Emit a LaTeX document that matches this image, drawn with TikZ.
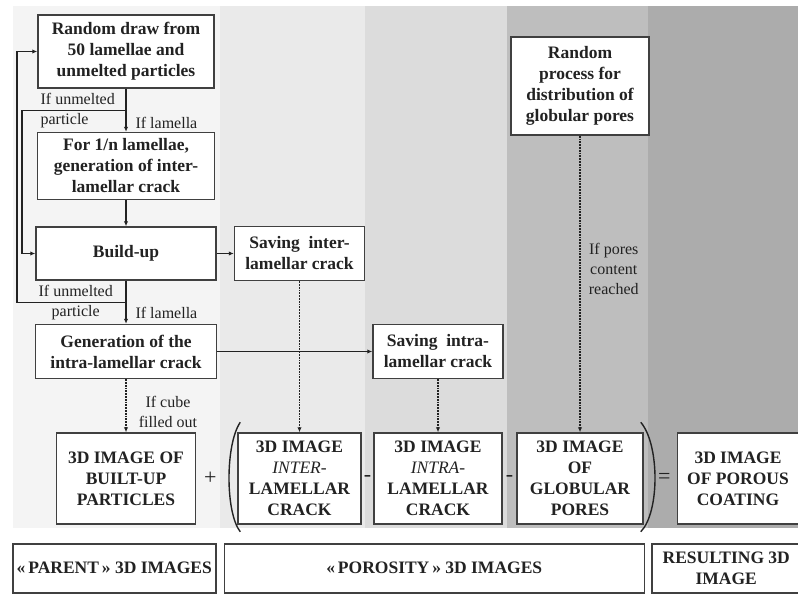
\documentclass[tikz,border=0pt]{standalone}
\usepackage{fontspec}
\setmainfont{Liberation Serif}
\usetikzlibrary{positioning,arrows.meta,calc}
\definecolor{ink}{HTML}{222222}
\definecolor{frame}{HTML}{404040}
\definecolor{bandA}{HTML}{F4F4F4}
\definecolor{bandB}{HTML}{EAEAEA}
\definecolor{bandC}{HTML}{DCDCDC}
\definecolor{bandD}{HTML}{BEBEBE}
\definecolor{bandE}{HTML}{ACACAC}
\tikzset{
  >={Latex[length=5pt,width=4.5pt]},
  %% nodes
  stepbox/.style = {draw=frame, line width=1.5pt, fill=white, align=center,
                    inner sep=0pt, text=ink,
                    font=\fontsize{17.5}{21}\selectfont\bfseries},
  imgbox/.style  = {stepbox, minimum height=91pt},
  tagbox/.style  = {stepbox, minimum height=49pt},
  %% arrows
  flow/.style    = {->, draw=ink, line width=1.1pt},
  link/.style    = {-, draw=ink, line width=1.1pt},
  dots/.style    = {->, draw=ink, line width=1.8pt, densely dotted},
  brace/.style   = {-, draw=ink, line width=1.4pt},
  %% annotations
  lbl/.style     = {font=\fontsize{16}{20}\selectfont, text=ink, inner sep=0pt},
  op/.style      = {font=\fontsize{22}{22}\selectfont, text=ink, inner sep=0pt},
}

\begin{document}
\begin{tikzpicture}[x=1pt, y=-1pt]
\useasboundingbox (0,0) rectangle (798,594);

%% background bands
\foreach \xa/\xb/\col in {13/220/bandA, 220/365/bandB, 365/507/bandC, 507/648/bandD, 648/798/bandE}
  \fill[\col] (\xa,6) rectangle (\xb,528);

%% build-up loop (left column)
\node[stepbox, minimum width=176pt, minimum height=73pt] (draw) at (126,51.5)
  {Random draw from\\ 50 lamellae and\\ unmelted particles};
\node[stepbox, minimum width=177pt, minimum height=67pt, below=43pt of draw] (lam)
  {For 1/n lamellae,\\ generation of inter-\\ lamellar crack};
\node[stepbox, minimum width=180pt, minimum height=53pt, below=26pt of lam] (build) {Build-up};
\node[stepbox, minimum width=181pt, minimum height=54pt, below=43pt of build] (gen)
  {Generation of the\\ intra-lamellar crack};

%% saved cracks and pores
\node[stepbox, minimum width=130pt, minimum height=54pt, right=17pt of build] (saveinter)
  {Saving\ \ inter-\\ lamellar crack};
\node[stepbox, minimum width=130pt, minimum height=54pt, right=155pt of gen] (saveintra)
  {Saving\ \ intra-\\ lamellar crack};
\node[stepbox, minimum width=138pt, minimum height=98pt] (pores) at (580,86)
  {Random\\ process for\\ distribution of\\ globular pores};

%% 3D images
\node[imgbox, minimum width=139pt, below=53pt of gen] (imgbuilt) {3D IMAGE OF\\ BUILT-UP\\ PARTICLES};
\node[imgbox, minimum width=123pt] (imginter) at (saveinter |- imgbuilt)
  {3D IMAGE\\ {\mdseries\itshape INTER-}\\ LAMELLAR\\ CRACK};
\node[imgbox, minimum width=128pt] (imgintra) at (saveintra |- imgbuilt)
  {3D IMAGE\\ {\mdseries\itshape INTRA-}\\ LAMELLAR\\ CRACK};
\node[imgbox, minimum width=126pt] (imgglob) at (pores |- imgbuilt)
  {3D IMAGE\\ OF\\ GLOBULAR\\ PORES};
\node[imgbox, minimum width=121pt, right=33pt of imgglob] (imgporous)
  {3D IMAGE\\ OF POROUS\\ COATING};

%% operators
\node[op] (plus) at ($(imgbuilt.east)+(14,0)$) {+};
\node[op] (minusA) at ($(imginter.east)!0.5!(imgintra.west)$) {-};
\node[op] (minusB) at ($(imgintra.east)!0.5!(imgglob.west)$) {-};
\node[op] (equal) at ($(imgglob.east)!0.62!(imgporous.west)$) {=};
\draw[brace] ($(imginter.north west)+(3,-10)$) .. controls ($(imginter.west)+(-12,-34)$)
  and ($(imginter.west)+(-12,34)$) .. ($(imginter.south west)+(3,7)$);
\draw[brace] ($(imgglob.north east)+(-3,-10)$) .. controls ($(imgglob.east)+(16,-34)$)
  and ($(imgglob.east)+(16,34)$) .. ($(imgglob.south east)+(-3,7)$);

%% row of captions
\node[tagbox, minimum width=203pt, anchor=north west] (tagparent) at (12,543) {«\,PARENT\,» 3D IMAGES};
\node[tagbox, minimum width=420pt, right=7pt of tagparent] (tagporo) {«\,POROSITY\,» 3D IMAGES};
\node[tagbox, minimum width=149pt, right=6pt of tagporo] (tagresult) {RESULTING 3D\\ IMAGE};

%% edges
\coordinate (fork1) at ($(draw.south)!0.5!(lam.north)$);
\coordinate (fork2) at ($(build.south)!0.5!(gen.north)$);
\coordinate (inner) at (22,0);
\coordinate (outer) at (17,0);

\draw[link] (draw.south) -- (fork1);
\draw[flow] (fork1) -- node[lbl, right=9pt, pos=0.6] {If lamella} (lam.north);
\draw[flow] (fork1) -| (inner |- build.west) -- (build.west);
\node[lbl, align=left, anchor=east] at ($(fork1)+(-11,0)$) {If unmelted\\ particle};

\draw[flow] (lam) -- (build);
\draw[flow] (build) -- (saveinter);

\draw[link] (build.south) -- (fork2);
\draw[flow] (fork2) -- node[lbl, right=9pt, pos=0.5] {If lamella} (gen.north);
\draw[flow] (fork2) -| (outer |- draw.west) -- (draw.west);
\node[lbl, align=center, anchor=east] at ($(fork2)+(-13,0)$) {If unmelted\\ particle};

\draw[flow] (gen) -- (saveintra);

%% dotted transfers to the 3D images
\draw[dots] (gen) -- node[lbl, right=12pt, pos=0.62, align=center] {If cube\\ filled out} (imgbuilt);
\draw[dots] (saveinter) -- (imginter);
\draw[dots] (saveintra) -- (imgintra);
\draw[dots] (pores) -- node[lbl, right=8pt, pos=0.45, align=center] {If pores\\ content\\ reached} (imgglob);

\end{tikzpicture}
\end{document}
